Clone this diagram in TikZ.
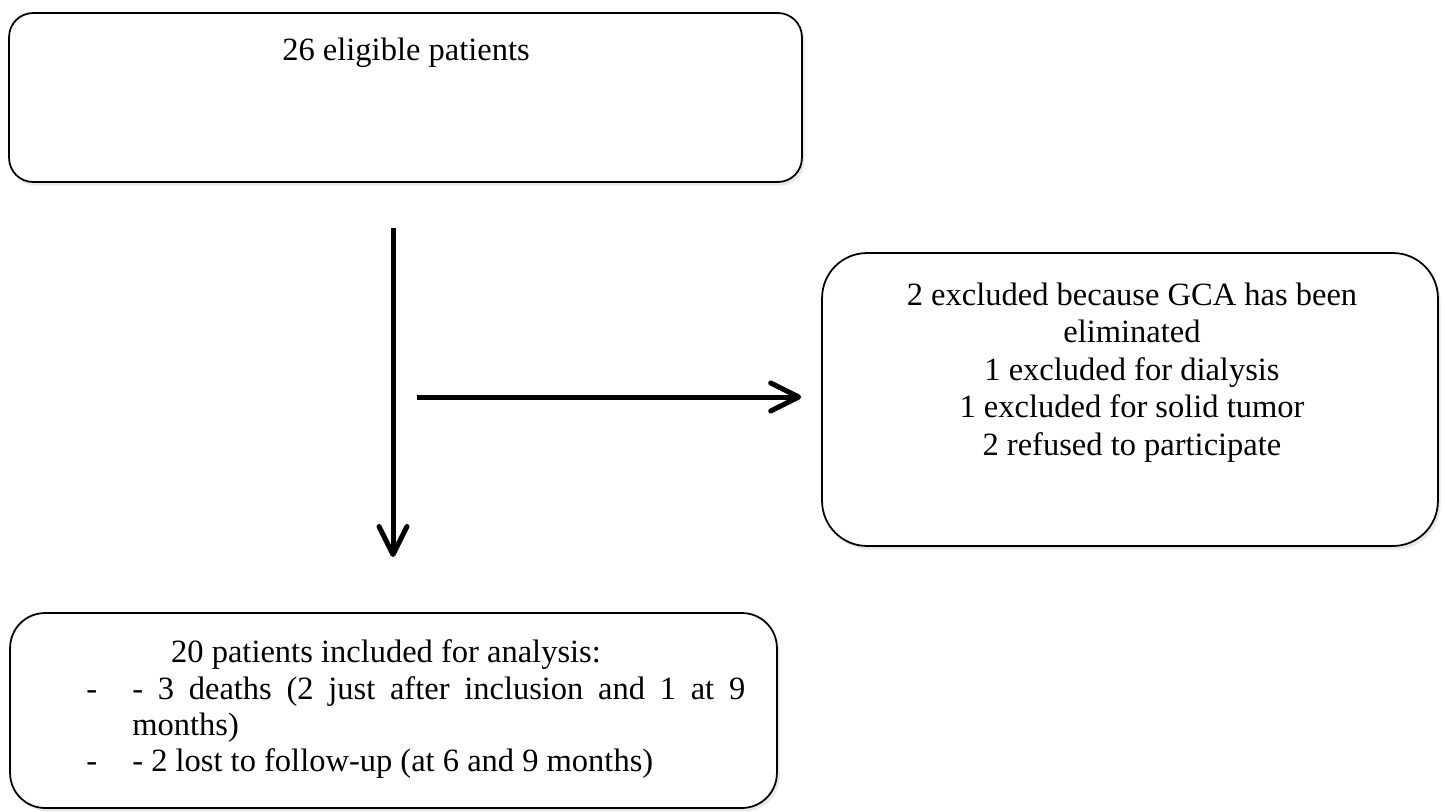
\documentclass[tikz,border=0pt]{standalone}
\usepackage{fontspec}
\setmainfont{Liberation Serif}
\usetikzlibrary{arrows.meta,positioning,shadows}
\tikzset{
  flowbox/.style={draw=black,line width=1pt,fill=white,
    drop shadow={opacity=0.18,shadow xshift=1.5pt,shadow yshift=-2pt}},
  box_top/.style={flowbox,rounded corners=0.48cm,minimum width=15.86cm,minimum height=3.38cm},
  box_excl/.style={flowbox,rounded corners=0.9cm,minimum width=12.32cm,minimum height=5.86cm},
  box_incl/.style={flowbox,rounded corners=0.7cm,minimum width=15.34cm,minimum height=3.9cm},
  txt/.style={font=\fontsize{18.5}{21.3}\selectfont,inner sep=0pt},
  txt_list/.style={font=\fontsize{18.5}{20.5}\selectfont,inner sep=0pt},
  arr/.style={-{Straight Barb[length=0.56cm,width=0.56cm,round]},line width=0.1cm},
}
\begin{document}
\begin{tikzpicture}[x=0.02cm,y=-0.02cm]
  \useasboundingbox (0,0) rectangle (1445,812);
  \node[box_top] (elig) at (405.5,97.5) {};
  \node[box_excl] (excl) at (1130,399.5) {};
  \node[box_incl] (incl) at (393.5,710.5) {};
  \node[txt,anchor=base] (elig_txt) at (406,60) {26 eligible patients};
  % base of a multi-line node is its last line
  \node[txt,anchor=base,align=center] (excl_txt) at (1132,455) {2 excluded because GCA has been\\eliminated\\1 excluded for dialysis\\1 excluded for solid tumor\\2 refused to participate};
  \node[txt,anchor=base] (incl_txt) at (386,662) {20 patients included for analysis:};
  \node[txt_list,anchor=base west] (incl_list) at (86,699) {\begin{tabular}[t]{@{}p{0.92cm}@{}l@{}}
    - & \makebox[12.26cm][s]{- 3 deaths (2 just after inclusion and 1 at 9}\\
      & months)\\
    - & - 2 lost to follow-up (at 6 and 9 months)
  \end{tabular}};
  \coordinate (v_from) at (393,228);
  \coordinate (v_to) at (393,557);
  \coordinate (h_from) at (417,397);
  \draw[arr] (v_from) -- (v_to);
  \draw[arr,shorten >=0.4cm] (h_from) -- (h_from -| excl.west);
\end{tikzpicture}
\end{document}
